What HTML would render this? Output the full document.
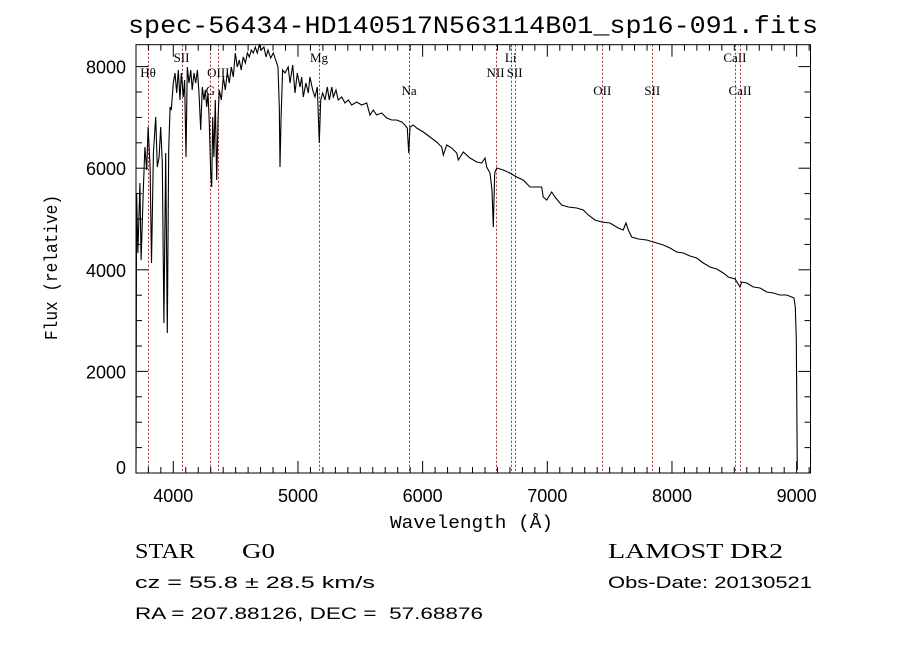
<!DOCTYPE html>
<html><head><meta charset="utf-8"><style>
html,body{margin:0;padding:0;background:#fff;}
svg{display:block;}
text{fill:#000;}
</style></head><body>
<svg id="chart" width="900" height="649" viewBox="0 0 900 649" xmlns="http://www.w3.org/2000/svg">
<rect width="900" height="649" fill="#fff"/>
<text x="128" y="33" font-family="Liberation Mono, monospace" font-size="25" textLength="690" lengthAdjust="spacingAndGlyphs">spec-56434-HD140517N563114B01_sp16-091.fits</text>
<g id="lines"></g>
<g id="ticks"></g>
<path id="spec" fill="none" stroke="#000" stroke-width="1.1"/>
<rect x="136" y="44.7" width="674.5" height="428.3" fill="none" stroke="#000" stroke-width="1"/>
<text x="390" y="528" font-family="Liberation Mono, monospace" font-size="18" textLength="163" lengthAdjust="spacingAndGlyphs">Wavelength (Å)</text>
<text transform="translate(57,340) rotate(-90)" font-family="Liberation Mono, monospace" font-size="18" textLength="145" lengthAdjust="spacingAndGlyphs">Flux (relative)</text>
<text x="135" y="558" font-family="Liberation Serif, serif" font-size="21" textLength="60" lengthAdjust="spacingAndGlyphs">STAR</text>
<text x="242" y="558" font-family="Liberation Serif, serif" font-size="21" textLength="33" lengthAdjust="spacingAndGlyphs">G0</text>
<text x="608" y="558" font-family="Liberation Serif, serif" font-size="21" textLength="175" lengthAdjust="spacingAndGlyphs">LAMOST DR2</text>
<text x="135" y="588" font-family="Liberation Sans, sans-serif" font-size="17" textLength="240" lengthAdjust="spacingAndGlyphs">cz = 55.8 ± 28.5 km/s</text>
<text x="608" y="588" font-family="Liberation Sans, sans-serif" font-size="17" textLength="204" lengthAdjust="spacingAndGlyphs">Obs-Date: 20130521</text>
<text x="135" y="619" font-family="Liberation Sans, sans-serif" font-size="17" textLength="348" lengthAdjust="spacingAndGlyphs" xml:space="preserve">RA = 207.88126, DEC =  57.68876</text>
</svg>
<script>
const wavelengths=[3701,3706,3716,3732,3742,3759,3772,3787,3798,3814,3825,3840,3859,3872,3886,3899,3912,3925,3939,3952,3963,3974,3984,4000,4014,4027,4040,4054,4064,4080,4091,4102,4112,4126,4140,4152,4166,4180,4193,4206,4220,4233,4246,4257,4268,4278,4289,4300,4308,4316,4326,4337,4348,4359,4369,4385,4401,4417,4433,4449,4465,4481,4497,4513,4529,4545,4561,4578,4594,4610,4626,4642,4658,4674,4690,4706,4727,4744,4760,4781,4802,4821,4840,4850,4856,4864,4877,4896,4922,4936,4958,4976,4995,5016,5030,5043,5064,5083,5096,5118,5137,5155,5171,5182,5198,5217,5235,5251,5271,5283,5305,5323,5351,5377,5404,5431,5471,5511,5551,5578,5604,5631,5672,5712,5752,5792,5832,5858,5877,5888,5899,5925,5952,6005,6059,6113,6153,6166,6193,6233,6273,6286,6326,6380,6434,6474,6500,6514,6540,6556,6567,6578,6594,6647,6701,6754,6807,6861,6915,6955,6967,6995,7035,7062,7115,7168,7236,7289,7329,7382,7436,7503,7569,7609,7631,7650,7677,7730,7797,7850,7930,7984,8038,8091,8144,8198,8251,8305,8359,8412,8452,8506,8546,8559,8599,8652,8706,8760,8813,8866,8920,8960,8979,8989,8997,9005];
const fluxes=[0,5512,4331,5709,4193,5571,6417,5965,6811,6024,4134,6299,7008,6024,6220,6811,6102,2953,6299,2756,6358,7205,7146,7677,7874,7480,7933,7343,7874,7402,7736,6220,7992,7677,7933,7539,7874,7677,7933,7480,6752,7598,7343,7539,7205,7480,6890,5906,5630,7008,6220,7343,5768,7008,7539,7343,7795,7539,7894,7677,7992,7795,8268,7992,8130,7933,8189,8071,8268,8189,8327,8268,8386,8268,8425,8327,8386,8189,8327,8169,8268,8130,7992,7205,6024,6949,7933,7874,7992,7677,8031,7480,7874,7598,7795,7402,7677,7480,7795,7539,7402,7598,6496,7343,7480,7343,7598,7343,7598,7402,7539,7343,7402,7283,7343,7244,7303,7244,7283,7047,7146,7047,7087,6988,6949,6949,6909,6850,6791,6299,6811,6850,6791,6713,6614,6516,6417,6260,6457,6398,6299,6161,6319,6201,6122,6102,6201,6024,5906,5571,4843,5906,6004,5965,5906,5827,5768,5630,5630,5630,5433,5374,5531,5433,5276,5236,5217,5177,5079,4980,4941,4921,4823,4783,4921,4783,4646,4606,4587,4547,4488,4429,4350,4331,4272,4232,4134,4055,4016,3937,3858,3819,3661,3760,3740,3661,3642,3563,3543,3504,3504,3465,3445,3268,2618,59];
const xTickValues=[4000,5000,6000,7000,8000,9000];
const xTickLabels=["4000","5000","6000","7000","8000","9000"];
const yTickValues=[0,2000,4000,6000,8000];
const yTickLabels=["0","2000","4000","6000","8000"];
const lineWaves=[3798,4066,4297,4361,5169,5891,6585,6706,6738,7441,7842,8505,8546];
const lineNames=["Hθ","SII","G","OIII","Mg","Na","NII","Li","SII","OII","SII","CaII","CaII"];
const lineLabelRow=[1,0,2,1,0,2,1,0,1,2,2,0,2];

const X0=136,X1=810.5,Y0=44.7,Y1=473;
function xs(l){return 173.3+(l-4000)*0.12467;}
function ys(f){return 473-f*0.0508;}
const NS="http://www.w3.org/2000/svg";
function mk(tag,attrs,parent){const e=document.createElementNS(NS,tag);for(const k in attrs)e.setAttribute(k,attrs[k]);parent.appendChild(e);return e;}

let d="";
for(let i=0;i<wavelengths.length;i++){d+=(i?"L":"M")+xs(wavelengths[i]).toFixed(1)+" "+ys(fluxes[i]).toFixed(1);}
document.getElementById("spec").setAttribute("d",d);

const lg=document.getElementById("lines");
const rowY=[62,77,95];
for(let i=0;i<lineWaves.length;i++){
  const x=Math.round(xs(lineWaves[i]))+0.5;
  const ln=mk("line",{x1:x,x2:x,y1:Y0,y2:Y1,stroke:"#a03030","stroke-width":1,"stroke-dasharray":"2,2"},lg);
  
  
  const t=mk("text",{x:xs(lineWaves[i]),y:rowY[lineLabelRow[i]],"text-anchor":"middle","font-family":"Liberation Serif, serif","font-size":"13"},lg);
  
  
  t.textContent=lineNames[i];
}

const tg=document.getElementById("ticks");
for(let w=3800;w<=9100;w+=100){
  const x=xs(w);if(x<X0||x>X1)continue;
  const len=(w%1000===0)?12:6;
  mk("line",{x1:x,x2:x,y1:Y1,y2:Y1-len,stroke:"#000"},tg);
  mk("line",{x1:x,x2:x,y1:Y0,y2:Y0+len,stroke:"#000"},tg);
}
for(let f=0;f<=8400;f+=500){
  const y=ys(f);if(y<Y0)continue;
  const len=(f%2000===0)?12:6;
  mk("line",{x1:X0,x2:X0+len,y1:y,y2:y,stroke:"#000"},tg);
  mk("line",{x1:X1,x2:X1-len,y1:y,y2:y,stroke:"#000"},tg);
}
for(let i=0;i<xTickValues.length;i++){
  const t=mk("text",{x:xs(xTickValues[i]),y:502,"text-anchor":"middle","font-family":"Liberation Sans, sans-serif","font-size":"18"},tg);
  
  
  t.textContent=xTickLabels[i];
}
for(let i=0;i<yTickValues.length;i++){
  let y=ys(yTickValues[i])+7; if(yTickValues[i]===0)y-=6;
  const t=mk("text",{x:126,y:y,"text-anchor":"end","font-family":"Liberation Sans, sans-serif","font-size":"18"},tg);
  
  
  t.textContent=yTickLabels[i];
}
</script>
</body></html>
